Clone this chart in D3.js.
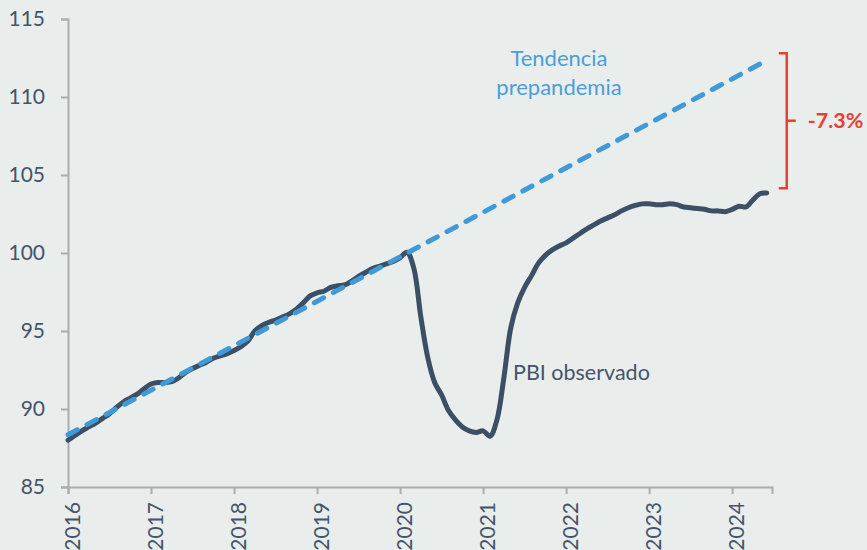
<!DOCTYPE html>
<html>
<head>
<meta charset="utf-8">
<script src="https://cdn.jsdelivr.net/npm/d3@7"></script>
<style>
  html, body { margin: 0; padding: 0; background: #e9edec; }
  svg { display: block; font-family: Lato, "Noto Sans", sans-serif; }
</style>
</head>
<body>
<div class="chart"></div>
<script>
// chart values
const yearTicks = [2016, 2017, 2018, 2019, 2020, 2021, 2022, 2023, 2024];
const valueTicks = [85, 90, 95, 100, 105, 110, 115];
// monthly index, Jan 2016 .. Jun 2024
const observed = [
  88.0, 88.3, 88.6, 88.85, 89.1, 89.4, 89.7, 90.1, 90.45, 90.7, 90.95, 91.3,
  91.6, 91.7, 91.7, 91.75, 92.0, 92.35, 92.6, 92.8, 93.0, 93.25, 93.4, 93.55,
  93.75, 94.0, 94.35, 95.0, 95.35, 95.55, 95.7, 95.9, 96.1, 96.4, 96.8, 97.25,
  97.45, 97.55, 97.8, 97.9, 97.95, 98.2, 98.5, 98.75, 99.0, 99.15, 99.3, 99.45,
  99.7, 100.05, 99.0, 95.9, 93.3, 91.7, 90.9, 89.9, 89.3, 88.85, 88.6, 88.5,
  88.6, 88.25, 89.3, 92.0, 95.2, 96.8, 97.8, 98.55, 99.35, 99.85, 100.2, 100.45,
  100.65, 100.95, 101.25, 101.55, 101.8, 102.05, 102.25, 102.45, 102.7, 102.9, 103.05, 103.15,
  103.15, 103.1, 103.1, 103.15, 103.1, 102.95, 102.9, 102.85, 102.8, 102.7, 102.7, 102.65,
  102.8, 103.0, 102.95, 103.4, 103.8, 103.85
];
const trendMonths = [0, 101];
const trendValues = [88.35, 112.35];
const gapLabel = "-7.3%";
const bracketValues = [112.8, 104.15];

const W = 867, H = 550;
const bg = "#e9edec";
const textColor = "#44546a";
const lineColor = "#3b4f65";
const trendColor = "#419ad8";
const red = "#e8402f";
const axisColor = "#acacac";

const svg = d3.select(".chart").append("svg")
  .attr("width", W).attr("height", H);
svg.append("rect").attr("width", W).attr("height", H).attr("fill", bg);

const x = d3.scaleLinear().domain([2016, 2024.48]).range([68, 772]);
const y = d3.scaleLinear().domain([85, 115]).range([487, 19]);
const monthX = i => x(2016 + i / 12);

// axes
const yAxis = svg.append("g")
  .attr("transform", "translate(68,0)")
  .call(d3.axisLeft(y).tickValues(valueTicks).tickSize(7).tickPadding(16).tickFormat(d3.format("d")));
const xAxis = svg.append("g")
  .attr("transform", "translate(0,487)")
  .call(d3.axisBottom(x).tickValues(yearTicks).tickSize(7).tickFormat(d3.format("d")));

[yAxis, xAxis].forEach(g => {
  g.select(".domain").attr("stroke", axisColor).attr("stroke-width", 2);
  g.selectAll(".tick line").attr("stroke", axisColor).attr("stroke-width", 2);
  g.selectAll("text").attr("fill", textColor).attr("font-size", 21)
    .attr("font-family", "Lato, 'Noto Sans', sans-serif");
});
xAxis.selectAll(".tick text")
  .attr("text-anchor", "end")
  .attr("y", 0).attr("dy", "0.35em")
  .attr("transform", "translate(4,15) rotate(-90)");

// observed line
const line = d3.line()
  .x((d, i) => monthX(i))
  .y(d => y(d))
  .curve(d3.curveCatmullRom.alpha(0.5));
svg.append("path")
  .datum(observed)
  .attr("d", line)
  .attr("fill", "none")
  .attr("stroke", lineColor)
  .attr("stroke-width", 5)
  .attr("stroke-linecap", "round")
  .attr("stroke-linejoin", "round");

// pre-pandemic trend
svg.append("path")
  .datum(trendMonths.map((m, i) => [m, trendValues[i]]))
  .attr("d", d3.line().x(d => monthX(d[0])).y(d => y(d[1])))
  .attr("fill", "none")
  .attr("stroke", trendColor)
  .attr("stroke-width", 5)
  .attr("stroke-linecap", "round")
  .attr("stroke-dasharray", "10.5 11");

// labels
svg.append("text")
  .attr("x", 513).attr("y", 380)
  .attr("fill", textColor).attr("font-size", 21.5)
  .text("PBI observado");

const tl = svg.append("text")
  .attr("x", 559).attr("y", 66)
  .attr("text-anchor", "middle")
  .attr("fill", "#4a9fd9").attr("font-size", 22);
tl.append("tspan").attr("x", 559).text("Tendencia");
tl.append("tspan").attr("x", 559).attr("dy", 29).text("prepandemia");

// gap bracket
const bx = monthX(observed.length - 1) + 20;
const bTop = y(bracketValues[0]), bBot = y(bracketValues[1]);
const bMid = (bTop + bBot) / 2;
svg.append("path")
  .attr("d", `M${bx - 8},${bTop}H${bx}V${bBot}H${bx - 8}M${bx},${bMid}H${bx + 9}`)
  .attr("fill", "none")
  .attr("stroke", red)
  .attr("stroke-width", 2.5);
svg.append("text")
  .attr("x", bx + 21).attr("y", bMid)
  .attr("dy", "0.35em")
  .attr("fill", red).attr("font-size", 21.5).attr("font-weight", "bold")
  .text(gapLabel);
</script>
</body>
</html>
